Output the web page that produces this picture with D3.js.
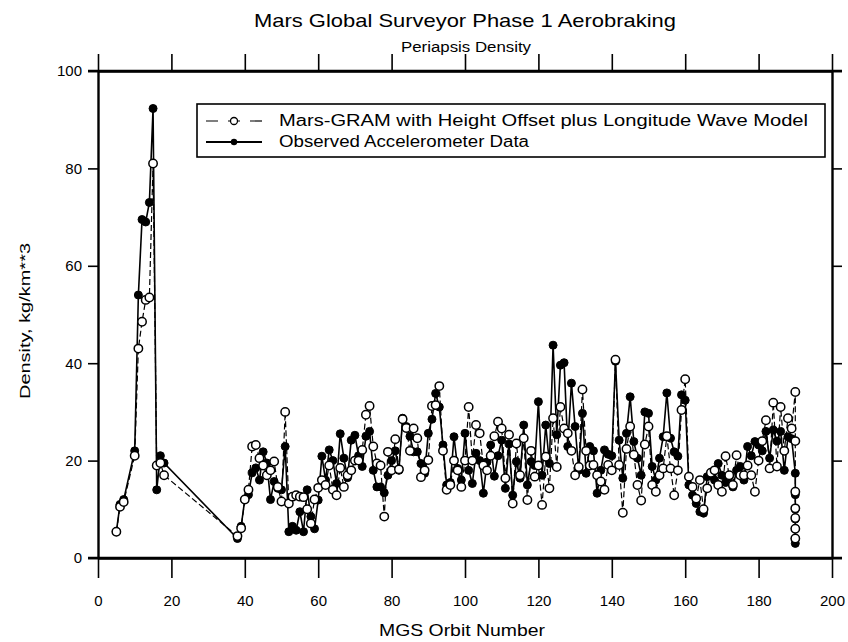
<!DOCTYPE html>
<html>
<head>
<meta charset="utf-8">
<script src="https://cdn.jsdelivr.net/npm/d3@7"></script>
<style>
  html, body { margin: 0; padding: 0; background: #fff; }
  svg { display: block; }
  text { font-family: "Liberation Sans Narrow", "Arial Narrow", "Liberation Sans", Arial, sans-serif; fill: #000; }
</style>
</head>
<body>
<svg id="chart" width="848" height="642"></svg>
<script>
// ---------------- DATA ----------------
const titleText = "Mars Global Surveyor Phase 1 Aerobraking";
const subtitleText = "Periapsis Density";
const xAxisLabel = "MGS Orbit Number";
const yAxisLabel = "Density, kg/km**3";
const seriesNames = ["Mars-GRAM with Height Offset plus Longitude Wave Model", "Observed Accelerometer Data"];
const xTicks = [0, 20, 40, 60, 80, 100, 120, 140, 160, 180, 200];
const yTicks = [0, 20, 40, 60, 80, 100];

const orbits = [
  5, 6, 7, 10, 11, 12, 13, 14, 15, 16, 17, 18,
  38, 39, 40, 41, 42, 43, 44, 45, 46, 47, 48, 49, 50, 51, 52, 53, 54, 55, 56, 57, 58, 59,
  60, 61, 62, 63, 64, 65, 66, 67, 68, 69, 70, 71, 72, 73, 74, 75, 76, 77, 78, 79,
  80, 81, 82, 83, 84, 85, 86, 87, 88, 89, 90, 91, 92, 93, 94, 95, 96, 97, 98, 99,
  100, 101, 102, 103, 104, 105, 106, 107, 108, 109, 110, 111, 112, 113, 114, 115, 116, 117, 118, 119,
  120, 121, 122, 123, 124, 125, 126, 127, 128, 129, 130, 131, 132, 133, 134, 135, 136, 137, 138, 139,
  140, 141, 142, 143, 144, 145, 146, 147, 148, 149, 150, 151, 152, 153, 154, 155, 156, 157, 158, 159,
  160, 161, 162, 163, 164, 165, 166, 167, 168, 169, 170, 171, 172, 173, 174, 175, 176, 177, 178, 179,
  180, 181, 182, 183, 184, 185, 186, 187, 188, 189,
  190, 190, 190, 190, 190, 190, 190
];

const modelDensity = [
  5.4, 10.5, 11.5, 21, 43, 48.5, 53, 53.5, 81, 19, 19.5, 17,
  4.5, 6.1, 12, 14, 22.9, 23.2, 20.5, 19, 17, 18, 19.8, 14.6, 11.6, 30, 11.2, 12.6, 12.9, 12.6, 12.5, 10, 7.1, 12,
  14.4, 16, 15, 19, 14, 12.9, 18.5, 14.6, 17, 18, 20, 20, 22.2, 29.4, 31.2, 22.9, 19.4, 19, 8.5, 21.8,
  18, 24.4, 18.2, 28.5, 26.7, 22, 26.6, 24.6, 16.6, 18, 20.1, 31.2, 31.4, 35.3, 22, 14, 15, 20, 18, 14.6,
  20, 31, 20, 27.3, 25.6, 19, 18, 21, 25, 28, 26.6, 16.4, 25.3, 11.2, 23.5, 17, 24.6, 11.9, 22, 16.7,
  19, 10.9, 20.8, 14.3, 28.7, 18.7, 31, 26.6, 25.6, 22, 17, 18.7, 34.6, 22, 19, 19.1, 17, 15.7, 14, 19.1,
  18, 40.7, 19.1, 9.3, 22.4, 27, 21.2, 15, 11.8, 23.3, 27, 15, 13.6, 17, 18.4, 25, 18.4, 12.9, 18, 30.4,
  36.7, 16.7, 14.6, 12.2, 16, 10, 14.3, 17.5, 18, 15, 13.6, 20.9, 17, 15, 21.1, 17, 17, 19, 17, 13.6,
  20, 24, 28.3, 18.4, 31.9, 18.8, 31, 22, 28.7, 26.6,
  34.1, 24, 13.6, 10.2, 8.2, 6, 4
];

const observedDensity = [
  5.4, 11, 12, 22, 54, 69.5, 69, 73, 92.3, 14, 21, 19.5,
  4, 6.5, 12, 13, 17.5, 18.5, 16, 21.8, 19.5, 12, 15.7, 14.3, 14, 22.9, 5.4, 6.5, 5.7, 9.5, 5.4, 14, 8.5, 6,
  11.9, 20.9, 16, 22.2, 20, 15.3, 25.5, 20.5, 16.5, 24.2, 25.2, 21, 18.8, 25, 26, 18, 14.6, 14.6, 13.4, 17,
  20, 22, 18, 28.7, 27, 25, 21.8, 21.8, 19.4, 17.4, 25.6, 28.5, 33.8, 31, 23.2, 15, 15.5, 24.9, 18.4, 16,
  25.6, 18, 15.3, 21.5, 20, 13.3, 19.7, 23.2, 16.8, 21, 24.2, 14.3, 23.4, 12.9, 19.8, 16.4, 27.3, 15, 19.8, 19,
  32.1, 17, 27.3, 19.4, 43.7, 25.3, 39.6, 40.1, 22.9, 35.9, 27, 18, 29.7, 17.4, 22.9, 22, 13.3, 18, 22.2, 21.3,
  21, 40.4, 24.2, 16.4, 25.6, 33.1, 23.9, 20.5, 17, 30, 29.7, 18.8, 16, 20.5, 24.9, 33.9, 24.6, 21.8, 20.9, 33.5,
  32.4, 15, 12.9, 11.2, 9.5, 9.2, 16.7, 17, 16, 19.4, 17, 15.5, 16.7, 14.6, 18, 18.8, 16, 22.9, 21, 23.9,
  23.2, 22, 26, 20.5, 26.3, 24, 26, 18, 24.9, 24.5,
  17.4, 13, 10, 8, 6, 4, 3
];

// ---------------- LAYOUT ----------------
const svg = d3.select("#chart");
const plot = { left: 98, right: 832, top: 71, bottom: 558 };

const x = d3.scaleLinear().domain([0, 200]).range([plot.left, plot.right]);
const y = d3.scaleLinear().domain([0, 100]).range([plot.bottom, plot.top]);

const tickFont = "15px";

// Axes
const gBottom = svg.append("g").attr("transform", `translate(0,${plot.bottom})`)
  .call(d3.axisBottom(x).tickValues(xTicks).tickSizeInner(20).tickSizeOuter(0).tickPadding(17).tickFormat(d3.format("d")));
const gTop = svg.append("g").attr("transform", `translate(0,${plot.top})`)
  .call(d3.axisTop(x).tickValues(xTicks).tickSizeInner(17).tickSizeOuter(0).tickFormat(""));
const gLeft = svg.append("g").attr("transform", `translate(${plot.left},0)`)
  .call(d3.axisLeft(y).tickValues(yTicks).tickSizeInner(10).tickSizeOuter(0).tickPadding(6).tickFormat(d3.format("d")));
const gRight = svg.append("g").attr("transform", `translate(${plot.right},0)`)
  .call(d3.axisRight(y).tickValues(yTicks).tickSizeInner(10).tickSizeOuter(0).tickFormat(""));

[gBottom, gTop, gLeft, gRight].forEach(g => {
  g.select(".domain").attr("stroke", "#000").attr("stroke-width", 2.4);
  g.selectAll(".tick line").attr("stroke", "#000").attr("stroke-width", 1.6);
  g.selectAll(".tick text").style("font-size", tickFont).attr("fill", "#000")
    .style("font-family", '"Liberation Sans Narrow", "Arial Narrow", "Liberation Sans", Arial, sans-serif');
});
// extend horizontal axis lines slightly to meet left/right ticks
svg.append("line").attr("x1", plot.left - 10).attr("x2", plot.right + 10)
  .attr("y1", plot.top).attr("y2", plot.top).attr("stroke", "#000").attr("stroke-width", 2.4);
svg.append("line").attr("x1", plot.left - 10).attr("x2", plot.right + 10)
  .attr("y1", plot.bottom).attr("y2", plot.bottom).attr("stroke", "#000").attr("stroke-width", 2.4);

// Titles
svg.append("text").attr("x", 465).attr("y", 27).attr("text-anchor", "middle")
  .style("font-family", '"Liberation Sans", Arial, sans-serif').style("font-size", "19px")
  .attr("textLength", 422).attr("lengthAdjust", "spacingAndGlyphs").text(titleText);
svg.append("text").attr("x", 466).attr("y", 52).attr("text-anchor", "middle")
  .style("font-size", "14px").attr("textLength", 130).attr("lengthAdjust", "spacingAndGlyphs").text(subtitleText);
svg.append("text").attr("x", 462).attr("y", 636).attr("text-anchor", "middle")
  .style("font-size", "17px").attr("textLength", 166).attr("lengthAdjust", "spacingAndGlyphs").text(xAxisLabel);
svg.append("text").attr("transform", "translate(30,321) rotate(-90)").attr("text-anchor", "middle")
  .style("font-size", "15px").attr("textLength", 156).attr("lengthAdjust", "spacingAndGlyphs").text(yAxisLabel);

// Data lines
const rows = orbits.map((o, i) => ({ o, m: modelDensity[i], d: observedDensity[i] }));
const lineObs = d3.line().x(r => x(r.o)).y(r => y(r.d));
const lineMod = d3.line().x(r => x(r.o)).y(r => y(r.m));

svg.append("path").datum(rows).attr("d", lineObs)
  .attr("fill", "none").attr("stroke", "#000").attr("stroke-width", 1.6);
svg.append("path").datum(rows).attr("d", lineMod)
  .attr("fill", "none").attr("stroke", "#000").attr("stroke-width", 1.2).attr("stroke-dasharray", "6,3");

svg.append("g").selectAll("circle").data(rows).join("circle")
  .attr("cx", r => x(r.o)).attr("cy", r => y(r.d)).attr("r", 4)
  .attr("fill", "#000").attr("stroke", "#000").attr("stroke-width", 1);
svg.append("g").selectAll("circle").data(rows).join("circle")
  .attr("cx", r => x(r.o)).attr("cy", r => y(r.m)).attr("r", 4.2)
  .attr("fill", "#fff").attr("stroke", "#000").attr("stroke-width", 1.5);

// Legend
const leg = svg.append("g");
leg.append("rect").attr("x", 197).attr("y", 104).attr("width", 628).attr("height", 53)
  .attr("fill", "#fff").attr("stroke", "#000").attr("stroke-width", 1.6);
leg.append("line").attr("x1", 206).attr("x2", 262).attr("y1", 121).attr("y2", 121)
  .attr("stroke", "#000").attr("stroke-width", 1.2).attr("stroke-dasharray", "12,10");
leg.append("circle").attr("cx", 234).attr("cy", 121).attr("r", 3.5)
  .attr("fill", "#fff").attr("stroke", "#000").attr("stroke-width", 1.3);
leg.append("line").attr("x1", 206).attr("x2", 262).attr("y1", 142).attr("y2", 142)
  .attr("stroke", "#000").attr("stroke-width", 1.8);
leg.append("circle").attr("cx", 234).attr("cy", 142).attr("r", 3.2).attr("fill", "#000");
leg.append("text").attr("x", 279).attr("y", 126).style("font-size", "16px")
  .attr("textLength", 529).attr("lengthAdjust", "spacingAndGlyphs").text(seriesNames[0]);
leg.append("text").attr("x", 279).attr("y", 147).style("font-size", "16px")
  .attr("textLength", 250).attr("lengthAdjust", "spacingAndGlyphs").text(seriesNames[1]);
</script>
</body>
</html>
